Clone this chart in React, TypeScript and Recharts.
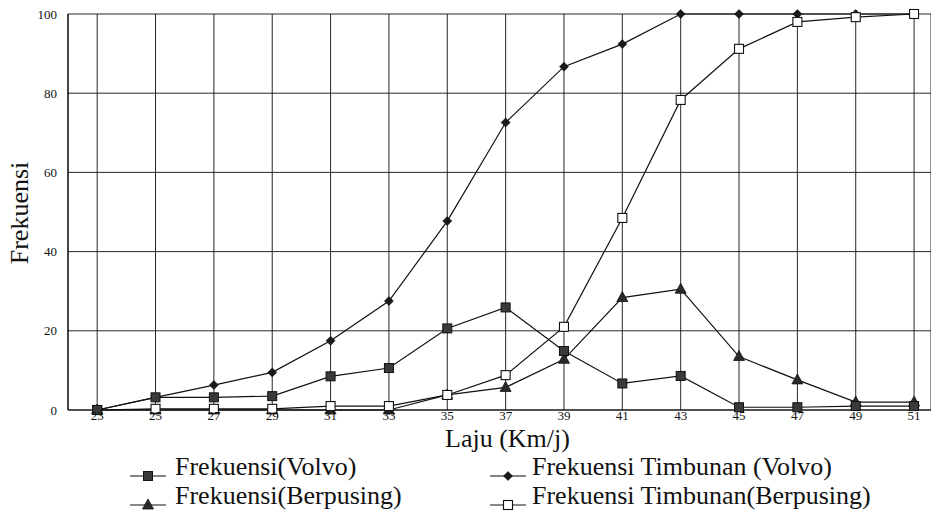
import React from 'react';
import { LineChart, Line, XAxis, YAxis, CartesianGrid, Legend } from 'recharts';

const laju = [23, 25, 27, 29, 31, 33, 35, 37, 39, 41, 43, 45, 47, 49, 51];
const frekVolvo = [0, 3.2, 3.2, 3.5, 8.5, 10.6, 20.6, 25.9, 14.9, 6.7, 8.6, 0.7, 0.7, 1, 1];
const frekBerpusing = [0, 0, 0, 0, 0, 0, 3.8, 5.7, 12.8, 28.4, 30.5, 13.5, 7.6, 2, 2];
const timbunanVolvo = [0, 3.2, 6.3, 9.5, 17.5, 27.5, 47.7, 72.6, 86.7, 92.4, 100, 100, 100, 100, 100];
const timbunanBerpusing = [0, 0.3, 0.3, 0.3, 1, 1, 3.8, 8.8, 21, 48.5, 78.3, 91.2, 98, 99.2, 100];
const xTicks = [23, 25, 27, 29, 31, 33, 35, 37, 39, 41, 43, 45, 47, 49, 51];
const yTicks = [0, 20, 40, 60, 80, 100];

const data = laju.map((l, i) => ({
  laju: l,
  frekVolvo: frekVolvo[i],
  frekBerpusing: frekBerpusing[i],
  timbunanVolvo: timbunanVolvo[i],
  timbunanBerpusing: timbunanBerpusing[i],
}));

const FONT = "'Liberation Serif', serif";
const INK = '#111';

type Kind = 'square' | 'triangle' | 'diamond' | 'open';

function shape(kind: Kind, cx: number, cy: number, key?: string) {
  if (kind === 'square') {
    return <rect key={key} x={cx - 4.5} y={cy - 4.5} width={9} height={9} fill="#3a3a3a" stroke={INK} strokeWidth={1} />;
  }
  if (kind === 'open') {
    return <rect key={key} x={cx - 4.5} y={cy - 4.5} width={9} height={9} fill="#fff" stroke={INK} strokeWidth={1.1} />;
  }
  if (kind === 'triangle') {
    return (
      <polygon key={key} points={`${cx},${cy - 6} ${cx + 5.5},${cy + 4} ${cx - 5.5},${cy + 4}`} fill="#2a2a2a" stroke={INK} strokeWidth={0.8} />
    );
  }
  return (
    <polygon key={key} points={`${cx},${cy - 4.5} ${cx + 4.5},${cy} ${cx},${cy + 4.5} ${cx - 4.5},${cy}`} fill="#1a1a1a" stroke={INK} strokeWidth={0.6} />
  );
}

const makeDot = (kind: Kind) => (props: any) => {
  const { cx, cy, index } = props;
  if (cx == null || cy == null) return <g key={`e-${kind}-${index}`} />;
  return shape(kind, cx, cy, `d-${kind}-${index}`);
};

const legendItems: { name: string; kind: Kind; col: number; row: number }[] = [
  { name: 'Frekuensi(Volvo)', kind: 'square', col: 0, row: 0 },
  { name: 'Frekuensi Timbunan (Volvo)', kind: 'diamond', col: 1, row: 0 },
  { name: 'Frekuensi(Berpusing)', kind: 'triangle', col: 0, row: 1 },
  { name: 'Frekuensi Timbunan(Berpusing)', kind: 'open', col: 1, row: 1 },
];

const LegendContent = () => {
  const colMarker = [128, 488];
  const colText = [175, 532];
  return (
    <div style={{ position: 'relative', width: 931, height: 60, fontFamily: FONT }}>
      {legendItems.map((it) => {
        const top = it.row === 0 ? 3 : 32;
        const markerY = it.row === 0 ? 25 : 54;
        return (
          <React.Fragment key={it.name}>
            <svg
              style={{ position: 'absolute', left: colMarker[it.col], top: markerY - 10, overflow: 'visible' }}
              width={40}
              height={20}
            >
              <line x1={2} y1={10} x2={38} y2={10} stroke={INK} strokeWidth={1.2} />
              {shape(it.kind, 20, 10)}
            </svg>
            <div
              style={{
                position: 'absolute',
                left: colText[it.col],
                top,
                fontSize: 26,
                lineHeight: '26px',
                whiteSpace: 'nowrap',
                color: '#111',
                fontFamily: FONT,
              }}
            >
              {it.name}
            </div>
          </React.Fragment>
        );
      })}
    </div>
  );
};

const YLabel = (props: any) => {
  const vb = props.viewBox || { x: 0, y: 0, width: 0, height: 0 };
  const x = vb.x + 28;
  const y = vb.y + vb.height / 2 + 1;
  return (
    <text x={x} y={y} transform={`rotate(-90 ${x} ${y})`} textAnchor="middle" fontSize={26} fill="#111" style={{ fontFamily: FONT }}>
      Frekuensi
    </text>
  );
};

const XLabel = (props: any) => {
  const vb = props.viewBox || { x: 0, y: 0, width: 0, height: 0 };
  const x = vb.x + vb.width / 2 + 8;
  const y = vb.y + 37;
  return (
    <text x={x} y={y} textAnchor="middle" fontSize={26} fill="#111" style={{ fontFamily: FONT }}>
      Laju (Km/j)
    </text>
  );
};

const tickStyle = { fontSize: 13, fill: '#111', fontFamily: FONT, style: { fontFamily: FONT } };

export default function App() {
  return (
    <div style={{ position: 'absolute', left: 0, top: 0, width: 931, height: 511, background: '#fff', fontFamily: FONT }}>
      <LineChart
        width={931}
        height={511}
        data={data}
        margin={{ top: 14, right: 0, left: 0, bottom: 0 }}
        style={{ fontFamily: FONT }}
      >
        <CartesianGrid stroke={INK} strokeWidth={1} strokeOpacity={0.9} />
        <XAxis
          dataKey="laju"
          type="number"
          domain={[22.0, 51.58]}
          allowDataOverflow
          ticks={xTicks}
          interval={0}
          height={41}
          axisLine={{ stroke: INK, strokeWidth: 1.2 }}
          tickLine={false}
          tickSize={0}
          tickMargin={1}
          tick={tickStyle}
          label={XLabel}
        />
        <YAxis
          type="number"
          domain={[0, 100]}
          ticks={yTicks}
          interval={0}
          width={68}
          axisLine={{ stroke: INK, strokeWidth: 1.2 }}
          tickLine={false}
          tickMargin={5}
          tick={tickStyle}
          label={YLabel}
        />
        <Legend verticalAlign="bottom" align="left" height={60} content={<LegendContent />} wrapperStyle={{ left: 0, width: 931 }} />
        <Line
          type="linear"
          dataKey="frekBerpusing"
          name="Frekuensi(Berpusing)"
          stroke={INK}
          strokeWidth={1.2}
          dot={makeDot('triangle')}
          activeDot={false}
          isAnimationActive={false}
        />
        <Line
          type="linear"
          dataKey="timbunanVolvo"
          name="Frekuensi Timbunan (Volvo)"
          stroke={INK}
          strokeWidth={1.2}
          dot={makeDot('diamond')}
          activeDot={false}
          isAnimationActive={false}
        />
        <Line
          type="linear"
          dataKey="timbunanBerpusing"
          name="Frekuensi Timbunan(Berpusing)"
          stroke={INK}
          strokeWidth={1.2}
          dot={makeDot('open')}
          activeDot={false}
          isAnimationActive={false}
        />
        <Line
          type="linear"
          dataKey="frekVolvo"
          name="Frekuensi(Volvo)"
          stroke={INK}
          strokeWidth={1.2}
          dot={makeDot('square')}
          activeDot={false}
          isAnimationActive={false}
        />
      </LineChart>
    </div>
  );
}
